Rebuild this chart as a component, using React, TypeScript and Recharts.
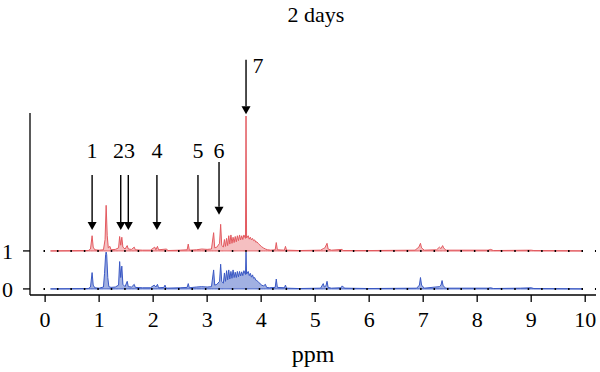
import { ComposedChart, Area, XAxis, YAxis, ReferenceLine, ReferenceDot } from "recharts";

const FONT = '"Liberation Serif", "DejaVu Serif", serif';

const xTicks = [0, 1, 2, 3, 4, 5, 6, 7, 8, 9, 10];
const yTicks = [0, 1];

// stacked spectra: red (2 days) sits one unit above blue
const redOffset = 1;

// [ppm, intensity]
const redSpectrum: [number, number][] = [
  [0.1, 0], [0.8, 0.01], [0.84, 0.05], [0.87, 0.4], [0.89, 0.1], [0.92, 0.03],
  [1.0, 0.02], [1.08, 0.03], [1.11, 0.3], [1.13, 1.2], [1.15, 0.4], [1.17, 0.08],
  [1.2, 0.12], [1.22, 0.03], [1.3, 0.04], [1.36, 0.08], [1.38, 0.38], [1.4, 0.15],
  [1.42, 0.36], [1.44, 0.1], [1.48, 0.05], [1.52, 0.14], [1.54, 0.05], [1.6, 0.04],
  [1.65, 0.1], [1.67, 0.03], [1.8, 0.02], [1.95, 0.02], [2.03, 0.1], [2.05, 0.03],
  [2.08, 0.12], [2.1, 0.03], [2.25, 0.05], [2.27, 0.01], [2.5, 0.02], [2.63, 0.03],
  [2.65, 0.18], [2.67, 0.02], [2.8, 0.03], [2.9, 0.05], [3.0, 0.04], [3.08, 0.05],
  [3.12, 0.48], [3.14, 0.08], [3.18, 0.1], [3.23, 0.2], [3.25, 0.7], [3.27, 0.15],
  [3.3, 0.1], [3.32, 0.3], [3.34, 0.12], [3.36, 0.33], [3.38, 0.14], [3.4, 0.4],
  [3.42, 0.18], [3.44, 0.42], [3.46, 0.2], [3.48, 0.36], [3.5, 0.22], [3.52, 0.38],
  [3.54, 0.24], [3.56, 0.4], [3.58, 0.27], [3.6, 0.42], [3.62, 0.29], [3.64, 0.4],
  [3.66, 0.3], [3.68, 0.42], [3.71, 0.33], [3.72, 3.55], [3.73, 0.34], [3.76, 0.4],
  [3.78, 0.31], [3.8, 0.36], [3.82, 0.29], [3.84, 0.33], [3.86, 0.27], [3.88, 0.29],
  [3.9, 0.23], [3.92, 0.24], [3.95, 0.19], [3.98, 0.15], [4.01, 0.11], [4.04, 0.08],
  [4.08, 0.05], [4.12, 0.03], [4.18, 0.02], [4.26, 0.03], [4.28, 0.22], [4.3, 0.03],
  [4.43, 0.02], [4.45, 0.12], [4.47, 0.02], [4.7, 0.01], [5.1, 0.02], [5.15, 0.06],
  [5.18, 0.08], [5.22, 0.2], [5.24, 0.05], [5.3, 0.02], [5.5, 0.04], [5.52, 0.01],
  [6.0, 0.01], [6.85, 0.02], [6.92, 0.1], [6.95, 0.2], [6.97, 0.08], [7.02, 0.02],
  [7.25, 0.03], [7.3, 0.1], [7.33, 0.06], [7.36, 0.14], [7.38, 0.08], [7.42, 0.02],
  [8.2, 0.02], [8.25, 0.04], [8.3, 0.01], [9.0, 0.02], [9.05, 0.01], [9.95, 0],
];

const blueSpectrum: [number, number][] = [
  [0.1, 0], [0.8, 0.01], [0.84, 0.05], [0.87, 0.43], [0.89, 0.1], [0.92, 0.03],
  [1.0, 0.02], [1.08, 0.05], [1.1, 0.4], [1.12, 0.9], [1.13, 0.97], [1.14, 0.9],
  [1.16, 0.3], [1.18, 0.06], [1.22, 0.04], [1.3, 0.05], [1.36, 0.1], [1.38, 0.72],
  [1.4, 0.3], [1.42, 0.6], [1.44, 0.12], [1.48, 0.06], [1.52, 0.2], [1.54, 0.06],
  [1.6, 0.05], [1.65, 0.12], [1.67, 0.04], [1.8, 0.03], [1.95, 0.03], [2.02, 0.1],
  [2.05, 0.05], [2.08, 0.12], [2.1, 0.03], [2.2, 0.04], [2.22, 0.1], [2.24, 0.02],
  [2.5, 0.03], [2.63, 0.04], [2.65, 0.14], [2.67, 0.03], [2.8, 0.05], [2.9, 0.06],
  [3.0, 0.05], [3.08, 0.06], [3.12, 0.5], [3.14, 0.1], [3.18, 0.12], [3.23, 0.2],
  [3.25, 0.65], [3.27, 0.2], [3.3, 0.15], [3.32, 0.42], [3.34, 0.2], [3.36, 0.48],
  [3.38, 0.24], [3.4, 0.5], [3.42, 0.26], [3.44, 0.46], [3.46, 0.28], [3.48, 0.5],
  [3.5, 0.3], [3.52, 0.44], [3.54, 0.3], [3.56, 0.46], [3.58, 0.32], [3.6, 0.46],
  [3.62, 0.34], [3.64, 0.45], [3.66, 0.35], [3.68, 0.48], [3.71, 0.38], [3.72, 0.97],
  [3.73, 0.39], [3.76, 0.46], [3.78, 0.35], [3.8, 0.41], [3.82, 0.31], [3.84, 0.37],
  [3.86, 0.28], [3.88, 0.3], [3.9, 0.23], [3.92, 0.22], [3.95, 0.18], [3.98, 0.14],
  [4.01, 0.1], [4.04, 0.08], [4.08, 0.12], [4.1, 0.04], [4.15, 0.03], [4.26, 0.04],
  [4.28, 0.26], [4.3, 0.04], [4.43, 0.03], [4.45, 0.1], [4.47, 0.02], [4.7, 0.01],
  [5.1, 0.02], [5.15, 0.14], [5.17, 0.05], [5.2, 0.08], [5.22, 0.2], [5.24, 0.04],
  [5.3, 0.02], [5.48, 0.03], [5.5, 0.08], [5.52, 0.05], [5.55, 0.02], [6.0, 0.01],
  [6.88, 0.02], [6.93, 0.1], [6.95, 0.3], [6.97, 0.1], [7.02, 0.02], [7.3, 0.06],
  [7.33, 0.1], [7.35, 0.22], [7.37, 0.08], [7.42, 0.02], [8.2, 0.02], [8.25, 0.03],
  [8.3, 0.01], [8.8, 0.02], [9.0, 0.03], [9.05, 0.01], [9.95, 0],
];

// annotation arrows (ppm, top of shaft, arrow tip) in plot units
const arrowPpm = [0.87, 1.4, 1.54, 2.07, 2.83, 3.22, 3.72];
const arrowTop = [3.0, 3.0, 3.0, 3.0, 3.0, 3.34, 6.03];
const arrowTip = [1.55, 1.55, 1.55, 1.55, 1.55, 1.95, 4.6];

const labelText = ["1", "23", "4", "5", "6", "7"];
const labelPpm = [0.87, 1.46, 2.07, 2.83, 3.22, 3.94];
const labelY = [3.64, 3.64, 3.64, 3.64, 3.64, 5.89];

const redData = redSpectrum.map(([x, v]) => ({ x, band: [redOffset, v + redOffset] }));
const blueData = blueSpectrum.map(([x, v]) => ({ x, band: [0, v] }));

function Arrow(props: any) {
  const { x1, y1, x2, y2 } = props;
  const head = 8;
  return (
    <g>
      <line x1={x1} y1={y1} x2={x2} y2={y2 - head} stroke="#000" strokeWidth={1.4} />
      <polygon
        points={`${x2 - 4.5},${y2 - head} ${x2 + 4.5},${y2 - head} ${x2},${y2}`}
        fill="#000"
      />
    </g>
  );
}

export default function App() {
  return (
    <div style={{ position: "absolute", left: 0, top: 0, width: 600, height: 372, background: "#fff" }}>
      <div
        style={{
          position: "absolute",
          left: 236,
          top: 3,
          width: 160,
          textAlign: "center",
          fontFamily: FONT,
          fontSize: 22,
          lineHeight: "24px",
          color: "#000",
        }}
      >
        2 days
      </div>
      <ComposedChart width={600} height={372} margin={{ top: 113, right: 4, bottom: 0, left: 0 }}>
        <XAxis
          type="number"
          dataKey="x"
          domain={[-0.28, 10.2]}
          ticks={xTicks}
          allowDataOverflow
          height={77}
          tickSize={7}
          tickMargin={9}
          axisLine={{ stroke: "#000", strokeWidth: 1.3 }}
          tickLine={{ stroke: "#000", strokeWidth: 1.3 }}
          tick={{ fill: "#000", fontSize: 22, fontFamily: FONT }}
          label={{ value: "ppm", position: "insideBottom", offset: 10, fill: "#000", fontSize: 24, fontFamily: FONT }}
        />
        <YAxis
          type="number"
          domain={[-0.16, 4.63]}
          ticks={yTicks}
          allowDataOverflow
          width={30}
          tickSize={7}
          tickMargin={10}
          axisLine={{ stroke: "#000", strokeWidth: 1.3 }}
          tickLine={{ stroke: "#000", strokeWidth: 1.3 }}
          tick={{ fill: "#000", fontSize: 22, fontFamily: FONT }}
        />
        <Area
          data={blueData}
          dataKey="band"
          type="linear"
          stroke="#3a58c4"
          strokeWidth={1}
          fill="#2f4fbf"
          fillOpacity={0.45}
          dot={false}
          activeDot={false}
          isAnimationActive={false}
        />
        <Area
          data={redData}
          dataKey="band"
          type="linear"
          stroke="#e35a60"
          strokeWidth={1}
          fill="#e2474e"
          fillOpacity={0.35}
          dot={false}
          activeDot={false}
          isAnimationActive={false}
        />
        {yTicks.map((y) => (
          <ReferenceLine
            key={"dots" + y}
            segment={[{ x: -0.03, y }, { x: 10.2, y }]}
            stroke="#000"
            strokeWidth={2}
            strokeDasharray="1.5 11.95"
            ifOverflow="visible"
          />
        ))}
        {arrowPpm.map((p, i) => (
          <ReferenceLine
            key={"arrow" + i}
            segment={[{ x: p, y: arrowTop[i] }, { x: p, y: arrowTip[i] }]}
            ifOverflow="visible"
            shape={(sp: any) => <Arrow {...sp} />}
          />
        ))}
        {labelText.map((t, i) => (
          <ReferenceDot
            key={"label" + i}
            x={labelPpm[i]}
            y={labelY[i]}
            r={0}
            fill="none"
            stroke="none"
            ifOverflow="visible"
            label={{ value: t, position: "center", fill: "#000", fontSize: 22, fontFamily: FONT }}
          />
        ))}
      </ComposedChart>
    </div>
  );
}
